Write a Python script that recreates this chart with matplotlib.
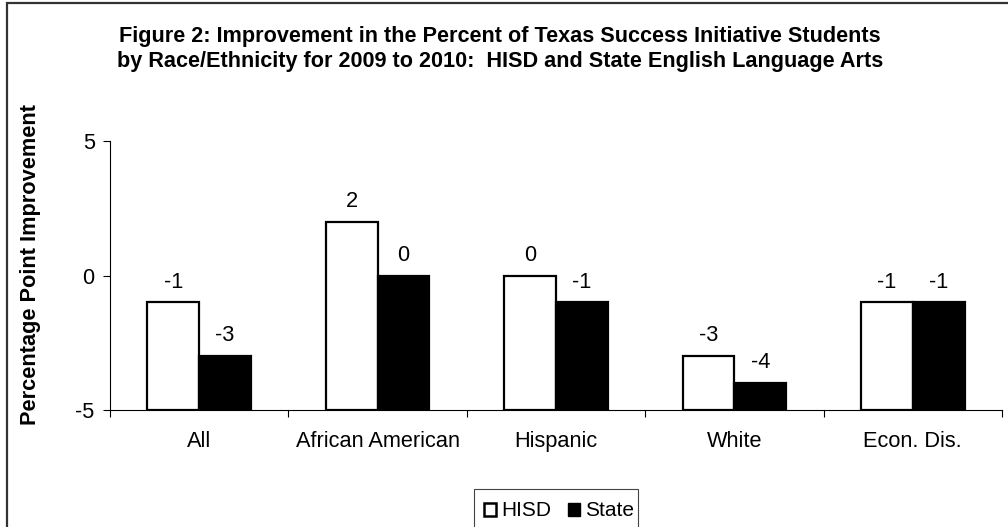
import numpy as np
import matplotlib
matplotlib.use("Agg")
from matplotlib import pyplot as plt
from matplotlib import patches

plt.rcParams['font.family'] = ['Liberation Sans', 'DejaVu Sans']

categories = ['All', 'African American', 'Hispanic', 'White', 'Econ. Dis.']
hisd = [-1, 2, 0, -3, -1]
state = [-3, 0, -1, -4, -1]
series_names = ['HISD', 'State']
yticks = [-5, 0, 5]

title = ('Figure 2: Improvement in the Percent of Texas Success Initiative Students\n'
         'by Race/Ethnicity for 2009 to 2010:  HISD and State English Language Arts')

W, H = 1008, 527
fig = plt.figure(figsize=(W / 100, H / 100), dpi=100)
ax = fig.add_axes([110 / W, 1 - 410 / H, 892 / W, 269 / H])

x = np.arange(len(categories))
bw = 0.29
base = -5
hv = np.array(hisd)
sv = np.array(state)
ax.bar(x - bw / 2, hv - base, bw, bottom=base, color='white', edgecolor='black', linewidth=1.6)
ax.bar(x + bw / 2, sv - base, bw, bottom=base, color='black', edgecolor='black', linewidth=1.6)

for i in range(len(categories)):
    ax.annotate(str(hisd[i]), (x[i] - bw / 2, hisd[i]), xytext=(0, 7), textcoords='offset points',
                ha='center', va='bottom', fontsize=15.7)
    ax.annotate(str(state[i]), (x[i] + bw / 2, state[i]), xytext=(0, 7), textcoords='offset points',
                ha='center', va='bottom', fontsize=15.7)

ax.set_xlim(-0.5, len(categories) - 0.5)
ax.set_ylim(-5, 5)
ax.set_yticks(yticks)
ax.set_yticklabels([str(t) for t in yticks], fontsize=15.7)
ax.set_xticks(np.arange(len(categories) + 1) - 0.5)
ax.set_xticklabels([])
ax.set_xticks(x, minor=True)
ax.set_xticklabels(categories, minor=True, fontsize=15.7)
ax.tick_params(axis='x', which='minor', length=0, pad=15)
ax.tick_params(axis='x', which='major', length=5, width=0.8, direction='out')
ax.tick_params(axis='y', length=5, width=0.8, pad=6)
for s in ['top', 'right']:
    ax.spines[s].set_visible(False)
for s in ['left', 'bottom']:
    ax.spines[s].set_linewidth(0.8)

ax.set_ylabel('Percentage Point Improvement', fontsize=15.7, fontweight='bold')
ax.yaxis.set_label_coords(-0.077, 0.54)

fig.text(500 / W, 1 - 49 / H, title, ha='center', va='center', fontsize=15.6,
         fontweight='bold', linespacing=1.2)

# outer chart border (cut off at right and bottom)
fig.patches.append(patches.Rectangle((6.5 / W, -0.1), 1.2, 1.1 - 3 / H, transform=fig.transFigure,
                                     fill=False, edgecolor='#333333', linewidth=1.6, clip_on=False))

# legend
fig.patches.append(patches.Rectangle((474 / W, -0.1), 164 / W, 0.1 + 1 - 489 / H,
                                     transform=fig.transFigure, fill=False,
                                     edgecolor='#444444', linewidth=0.8, clip_on=False))
handles = [patches.Patch(facecolor='white', edgecolor='black', linewidth=1.8),
           patches.Patch(facecolor='black', edgecolor='black')]
fig.legend(handles, series_names, loc='center left', bbox_to_anchor=(484 / W, 1 - 511 / H),
           ncol=2, frameon=False, fontsize=15, handlelength=0.58, handleheight=0.58,
           handletextpad=0.25, columnspacing=0.8, borderpad=0, borderaxespad=0)

fig.savefig('out.png', dpi=100)
